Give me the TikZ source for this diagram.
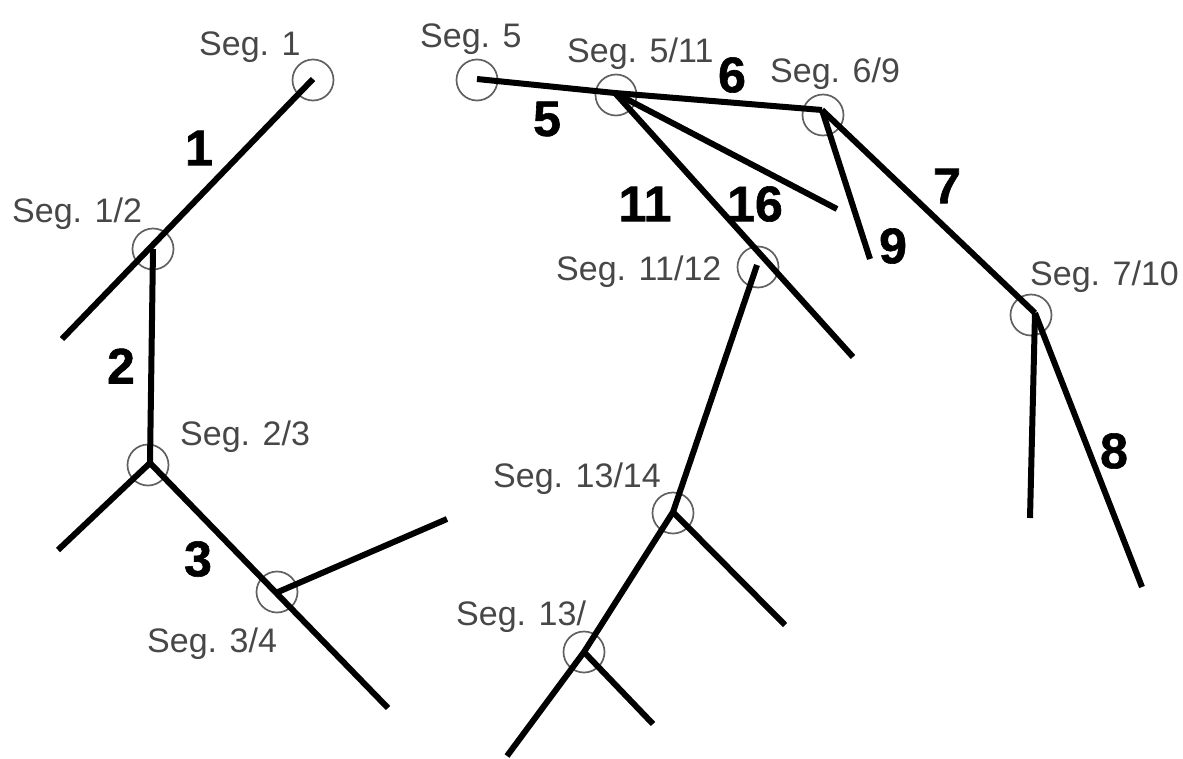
\documentclass[tikz,border=0pt]{standalone}
\usepackage{fontspec}
\setmainfont{Liberation Sans}
\newfontfamily\numfont[FakeBold=1.2]{Liberation Sans Bold}
\begin{document}
\begin{tikzpicture}[x=1pt,y=-1pt,
  branch/.style={line width=6pt, line join=round},
  ring/.style={circle, draw=black!62, line width=1.7pt, minimum size=41pt, inner sep=0pt},
  seglabel/.style={text=black!72, font=\fontsize{34}{40}\selectfont, inner sep=0pt, anchor=base west},
  segnum/.style={font=\fontsize{50}{56}\selectfont\numfont, inner sep=0pt}]
\useasboundingbox (0,0) rectangle (1183,758);

% ---------- left tree: junction points and free ends ----------
\coordinate (j1)   at (313,79);
\coordinate (j12)  at (153,249);
\coordinate (j23)  at (150,463);
\coordinate (j34)  at (278,592);
\coordinate (e1)   at (62,339);
\coordinate (e2)   at (58,550);
\coordinate (e3)   at (388,708);
\coordinate (e4)   at (447,519);

% ---------- right tree: junction points and free ends ----------
\coordinate (j5)    at (477,79);
\coordinate (j511)  at (615,93);
\coordinate (j69)   at (822,110);
\coordinate (j1112) at (757,265);
\coordinate (j710)  at (1035,313);
\coordinate (j1314) at (673,512);
\coordinate (j13)   at (584,652);
\coordinate (e16)   at (837,209);
\coordinate (e11)   at (853,357);
\coordinate (e9)    at (870,259);
\coordinate (e10)   at (1030,518);
\coordinate (e8)    at (1142,587);
\coordinate (e14)   at (785,625);
\coordinate (e13a)  at (507,756);
\coordinate (e13b)  at (653,724);

% ---------- segment rings ----------
\node[ring] (r1)    at (313,80)  {};
\node[ring] (r12)   at (153,249) {};
\node[ring] (r23)   at (148,465) {};
\node[ring] (r34)   at (277,592) {};
\node[ring] (r5)    at (477,80)  {};
\node[ring] (r511)  at (616,95)  {};
\node[ring] (r69)   at (823,115) {};
\node[ring] (r1112) at (758,267) {};
\node[ring] (r710)  at (1031,315) {};
\node[ring] (r1314) at (673,513) {};
\node[ring] (r13)   at (584,652) {};

% ---------- branches ----------
\draw[branch] (j1) -- (e1);
\draw[branch] (j12) -- (j23);
\draw[branch] (j23) -- (e2);
\draw[branch] (j23) -- (e3);
\draw[branch] (j34) -- (e4);

\draw[branch] (j5) -- (j511) -- (j69);
\draw[branch] (j511) -- (e16);
\draw[branch] (j511) -- (e11);
\draw[branch] (j1112) -- (j1314);
\draw[branch] (j1314) -- (j13) -- (e13a);
\draw[branch] (j1314) -- (e14);
\draw[branch] (j13) -- (e13b);
\draw[branch] (j69) -- (e9);
\draw[branch] (j69) -- (j710);
\draw[branch] (j710) -- (e10);
\draw[branch] (j710) -- (e8);

% ---------- segment labels ----------
\node[seglabel] (s1)    at (199,55)  {Seg. 1};
\node[seglabel] (s12)   at (12,222)  {Seg. 1/2};
\node[seglabel] (s23)   at (180,445) {Seg. 2/3};
\node[seglabel] (s34)   at (147,652) {Seg. 3/4};
\node[seglabel] (s5)    at (420,47)  {Seg. 5};
\node[seglabel] (s511)  at (567,62)  {Seg. 5/11};
\node[seglabel] (s69)   at (770,82)  {Seg. 6/9};
\node[seglabel] (s1112) at (556,280) {Seg. 11/12};
\node[seglabel] (s710)  at (1030,285) {Seg. 7/10};
\node[seglabel] (s1314) at (493,487) {Seg. 13/14};
\node[seglabel] (s13)   at (456,625) {Seg. 13/};

% ---------- segment numbers ----------
\node[segnum] (n1)  at (199,148) {1};
\node[segnum] (n2)  at (121,366) {2};
\node[segnum] (n3)  at (198,559) {3};
\node[segnum] (n5)  at (547,119) {5};
\node[segnum] (n6)  at (732,75)  {6};
\node[segnum] (n11) at (645,204) {11};
\node[segnum] (n16) at (755,204) {16};
\node[segnum] (n7)  at (947,186) {7};
\node[segnum] (n9)  at (893,246) {9};
\node[segnum] (n8)  at (1114,451) {8};
\end{tikzpicture}
\end{document}
